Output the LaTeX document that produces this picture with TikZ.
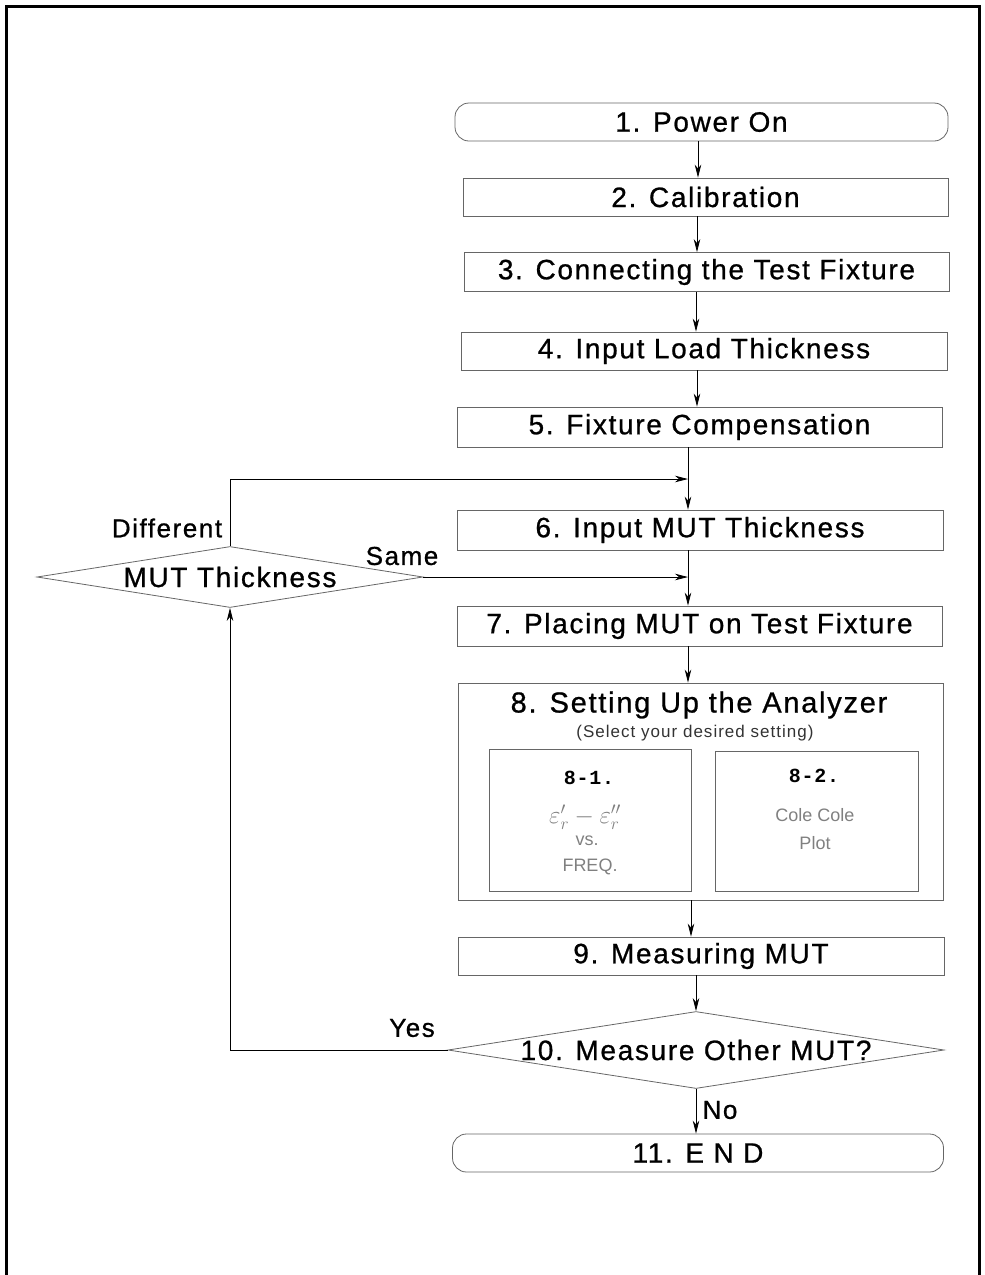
\documentclass[tikz,border=0pt]{standalone}
\usepackage{fontspec}
\setmainfont{Liberation Sans}
\newfontfamily\boxfont{Liberation Sans}[LetterSpace=6,FakeBold=0.8]
\newfontfamily\subfont{Liberation Sans}[LetterSpace=6]
\newfontfamily\numfont{Liberation Mono}[LetterSpace=4]
\usetikzlibrary{shapes.geometric,arrows.meta}
\definecolor{boxline}{gray}{0.4}
\definecolor{softtext}{gray}{0.5}
\tikzset{
  proc/.style={draw=boxline, line width=0.8pt, inner sep=0pt, text=black,
    font=\boxfont\fontsize{28}{30}\selectfont},
  term/.style={proc, rounded corners=14pt},
  dec/.style={diamond, draw=boxline, line width=0.8pt, inner sep=0pt},
  inner/.style={draw=boxline, line width=0.8pt, inner sep=0pt},
  arr/.style={-{Stealth[length=13pt,width=6.5pt,inset=4pt]}, line width=0.8pt},
  flowlabel/.style={font=\boxfont\fontsize{26}{28}\selectfont, inner sep=0pt},
  title/.style={font=\boxfont\fontsize{29}{31}\selectfont, inner sep=0pt},
  subtitle/.style={font=\subfont\fontsize{17}{19}\selectfont, inner sep=0pt, text=black!80},
  numlabel/.style={font=\numfont\bfseries\fontsize{20}{22}\selectfont, inner sep=0pt},
  soft/.style={font=\fontsize{18}{20}\selectfont, inner sep=0pt, text=softtext}
}
\begin{document}
\begin{tikzpicture}[x=1pt,y=-1pt]
\useasboundingbox (0,0) rectangle (985,1275);
% frame (open at the bottom)
\draw[line width=3pt] (6,1276) -- (6,6) -- (979,6) -- (979,1276);

% main column
\node[term, minimum width=493pt, minimum height=38pt] (n1) at (701.5,122) {1. Power On};
\node[proc, minimum width=485pt, minimum height=38pt] (n2) at (705.5,197) {2. Calibration};
\node[proc, minimum width=485pt, minimum height=39pt] (n3) at (706.5,272) {3. Connecting the Test Fixture};
\node[proc, minimum width=486pt, minimum height=38pt] (n4) at (704,351) {4. Input Load Thickness};
\node[proc, minimum width=485pt, minimum height=40pt] (n5) at (699.5,427) {5. Fixture Compensation};
\node[proc, minimum width=486pt, minimum height=40pt] (n6) at (700,530) {6. Input MUT Thickness};
\node[proc, minimum width=485pt, minimum height=40pt] (n7) at (699.5,626) {7. Placing MUT on Test Fixture};
\node[proc, minimum width=485pt, minimum height=217pt] (n8) at (700.5,791.5) {};
\node[title] (t8) at (699,705) {8. Setting Up the Analyzer};
\node[subtitle] (s8) at (695,733) {(Select your desired setting)};
\node[inner, minimum width=202pt, minimum height=142pt] (n81) at (590,820) {};
\node[inner, minimum width=203pt, minimum height=140pt] (n82) at (816.5,821) {};
\node[numlabel] (l81) at (589,778) {8-1.};
\node[soft, font=\fontsize{23}{25}\selectfont] (e81) at (585,817) {$\varepsilon_r' - \varepsilon_r''$};
\node[soft] (v81) at (587,841) {vs.};
\node[soft] (f81) at (590,867) {FREQ.};
\node[numlabel] (l82) at (814,776) {8-2.};
\node[soft] (c82) at (815,815) {Cole Cole};
\node[soft] (p82) at (815,843) {Plot};
\node[proc, minimum width=486pt, minimum height=38pt] (n9) at (701,956) {9. Measuring MUT};
\node[dec, minimum width=496pt, minimum height=77pt,
  label={[font=\boxfont\fontsize{28}{30}\selectfont]center:10. Measure Other MUT?}] (n10) at (696,1050) {};
\node[term, minimum width=491pt, minimum height=38pt] (n11) at (698,1153) {11. E N D};

% left decision
\node[dec, minimum width=386pt, minimum height=61pt,
  label={[font=\boxfont\fontsize{28}{30}\selectfont]center:MUT Thickness}] (mut) at (230,577) {};

% junction points on the main column
\coordinate (j1) at (688,479);
\coordinate (j2) at (688,577);
\coordinate (c1) at (698,0);
\coordinate (c2) at (697,0);
\coordinate (c3) at (696,0);
\coordinate (c4) at (697,0);
\coordinate (c5) at (688,0);
\coordinate (c8) at (691,0);

% connectors
\draw[arr] (n1.south -| c1) -- (n2.north -| c1);
\draw[arr] (n2.south -| c2) -- (n3.north -| c2);
\draw[arr] (n3.south -| c3) -- (n4.north -| c3);
\draw[arr] (n4.south -| c4) -- (n5.north -| c4);
\draw[arr] (n5.south -| c5) -- (n6.north -| c5);
\draw[arr] (n6.south -| c5) -- (n7.north -| c5);
\draw[arr] (n7.south -| c5) -- (n8.north -| c5);
\draw[arr] (n8.south -| c8) -- (n9.north -| c8);
\draw[arr] (n9.south -| n10.north) -- (n10.north);
\draw[arr] (n10.south) -- (n11.north -| n10.south);

\draw[arr] (mut.north) |- (j1);
\draw[arr] (mut.east) -- (j2);
\draw[arr] (n10.west) -| (mut.south);

% branch labels
\node[flowlabel] (ldiff) at (167,528) {Different};
\node[flowlabel] (lsame) at (402,556) {Same};
\node[flowlabel] (lyes) at (412,1028) {Yes};
\node[flowlabel] (lno) at (720,1110) {No};
\end{tikzpicture}
\end{document}
